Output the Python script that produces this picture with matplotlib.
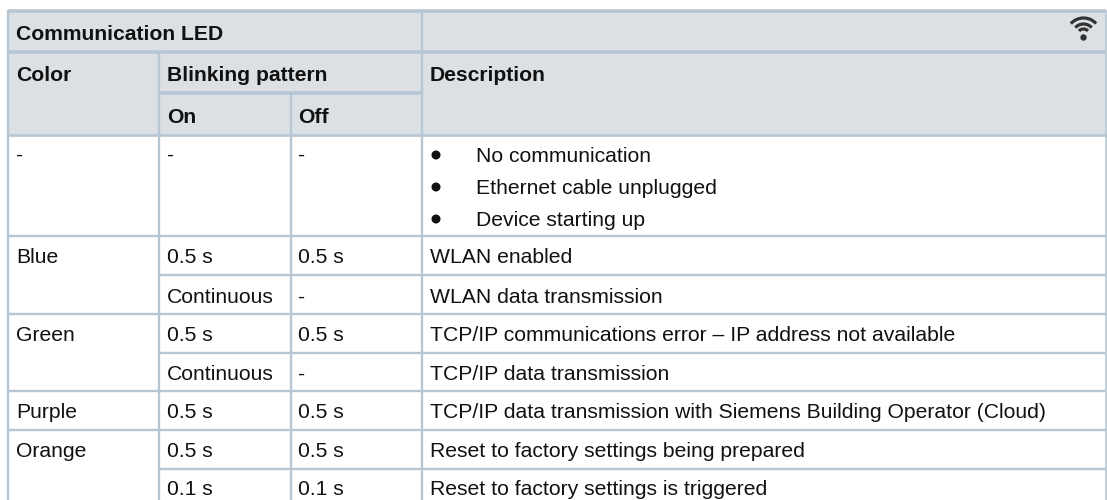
import matplotlib
matplotlib.use('Agg')
import matplotlib.pyplot as plt
from matplotlib.patches import Arc, Circle, Rectangle

title = 'Communication LED'
header_top = ['Color', 'Blinking pattern', 'Description']
header_sub = ['On', 'Off']

colors = ['-', 'Blue', '', 'Green', '', 'Purple', 'Orange', '']
on_times = ['-', '0.5 s', 'Continuous', '0.5 s', 'Continuous', '0.5 s', '0.5 s', '0.1 s']
off_times = ['-', '0.5 s', '-', '0.5 s', '-', '0.5 s', '0.5 s', '0.1 s']
descriptions = [
    '',
    'WLAN enabled',
    'WLAN data transmission',
    'TCP/IP communications error – IP address not available',
    'TCP/IP data transmission',
    'TCP/IP data transmission with Siemens Building Operator (Cloud)',
    'Reset to factory settings being prepared',
    'Reset to factory settings is triggered',
]
bullets = ['No communication', 'Ethernet cable unplugged', 'Device starting up']

LINE = '#b7c6d3'
HEAD = '#dbe0e4'
FS = 15.2

plt.rcParams['font.family'] = ['Liberation Sans', 'DejaVu Sans']

fig = plt.figure(figsize=(11.07, 5.0), dpi=100)
ax = fig.add_axes([0, 0, 1, 1])
ax.set_xlim(0, 1107)
ax.set_ylim(500, 0)
ax.axis('off')

x0, x1, x2, x3, x_end = 8, 159, 291, 422, 1105.5
row_lines = [134.5, 236, 275, 314, 353, 391, 430, 469]


def hline(y, a, b, lw=1.0):
    ax.plot([a, b], [y, y], color=LINE, lw=lw, solid_capstyle='butt')


def vline(x, a, b, lw=1.0):
    ax.plot([x, x], [a, b], color=LINE, lw=lw, solid_capstyle='butt')


def label(x, y, s, bold=False):
    ax.text(x, y, s, fontsize=FS, va='baseline', ha='left', color='#111111',
            fontweight='bold' if bold else 'normal')


ax.add_patch(Rectangle((x0, 11), x_end - x0, row_lines[0] - 11, color=HEAD, lw=0))

hline(11, x0, x_end, 2.6)
hline(52, x0, x_end, 2.6)
hline(93, x1, x3, 2.6)
hline(row_lines[0], x0, x_end, 1.9)
vline(x0, 10, 500, 1.7)
vline(x3, 10, 500, 1.7)
vline(x1, 52, 500, 1.7)
vline(x2, 93, 500, 1.7)
vline(x_end, 10, 500, 1.2)

# rows where a colour spans two lines only rule off from the second column
for j, y in enumerate(row_lines[1:], start=1):
    start = x1 if colors[j] == '' else x0
    hline(y, start, x_end, 1.7)

label(16, 40, title, True)
label(16, 81, header_top[0], True)
label(167, 81, header_top[1], True)
label(430, 81, header_top[2], True)
label(167, 123, header_sub[0], True)
label(298, 123, header_sub[1], True)

baselines = [161, 263, 303, 341, 380, 418, 457, 495]
for i, y in enumerate(baselines):
    label(16, y, colors[i])
    label(167, y, on_times[i])
    label(298, y, off_times[i])
    label(430, y, descriptions[i])

for y, s in zip([155, 187, 219], bullets):
    ax.add_patch(Circle((436, y), 4.5, color='#111111', lw=0))
    label(476, y + 6.5, s)

# wifi symbol
cx, cy = 1083.5, 35
for r in [6, 11, 17]:
    ax.add_patch(Arc((cx, cy), 2 * r, 2 * r, theta1=222, theta2=318, color='#333333', lw=2.3))
ax.add_patch(Circle((cx, 37.5), 3.2, color='#333333', lw=0))

fig.savefig('out.png', dpi=100)
